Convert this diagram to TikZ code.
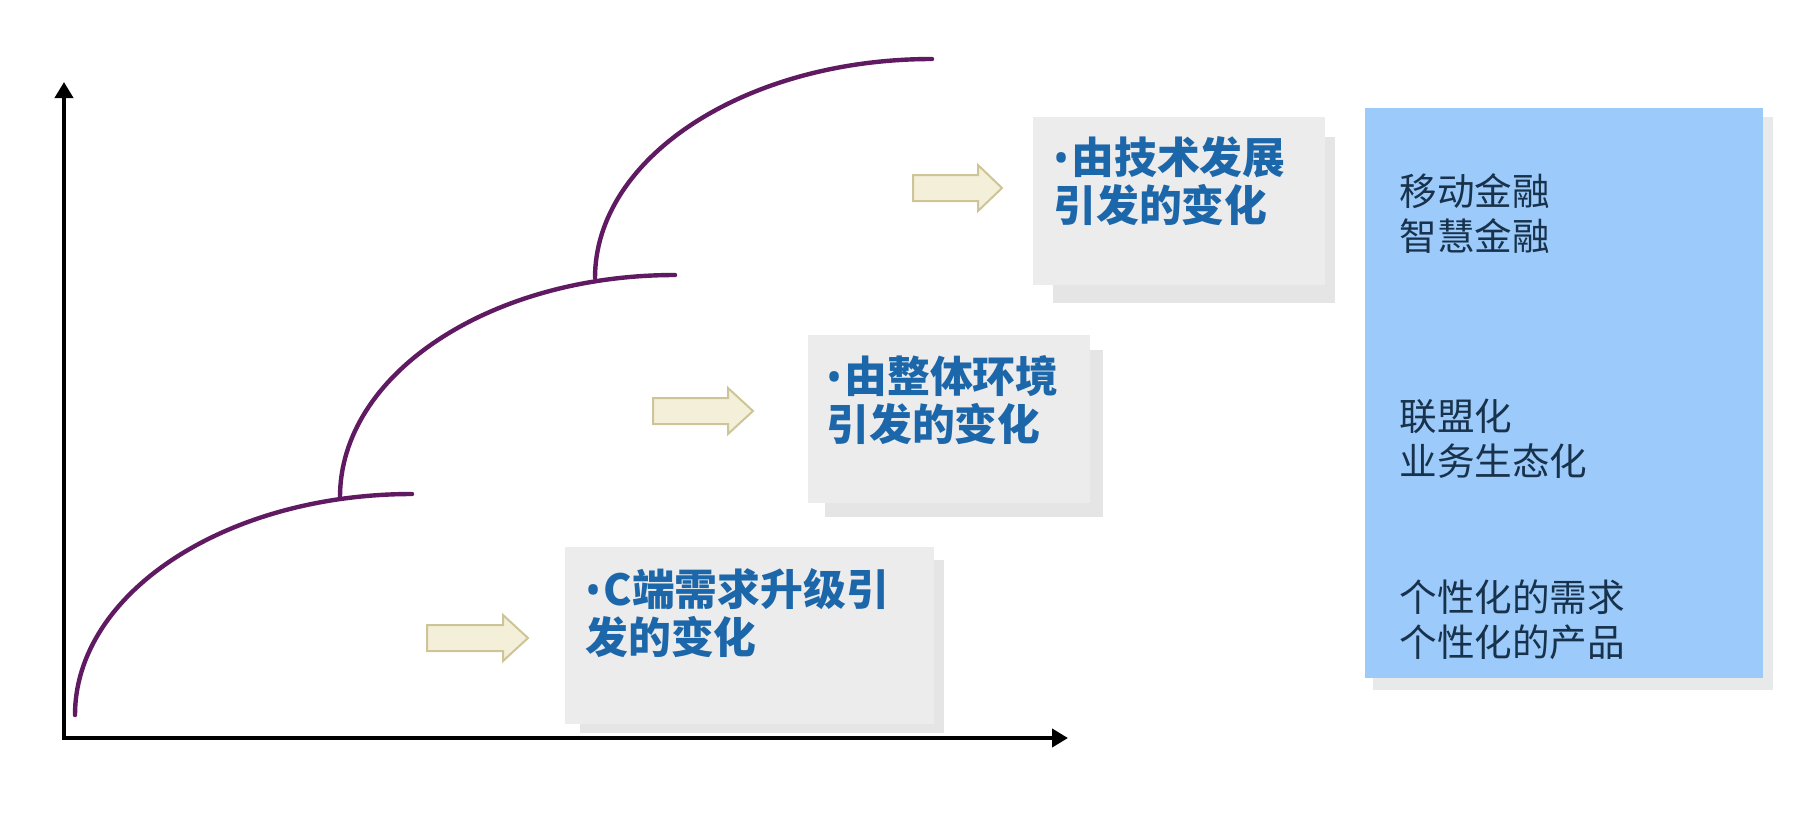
\documentclass[tikz,border=0pt]{standalone}
\usepackage{fontspec}
\newfontfamily\cjk{Noto Sans CJK SC}
\newfontfamily\latinsans{Noto Sans}
\usetikzlibrary{arrows.meta}

\definecolor{curvepurple}{HTML}{5F1A62}
\definecolor{cardgray}{HTML}{ECECEC}
\definecolor{cardshade}{HTML}{E5E5E5}
\definecolor{cardtext}{HTML}{1C66AA}
\definecolor{panelblue}{HTML}{9CCBFB}
\definecolor{panelshade}{HTML}{E8EAEA}
\definecolor{paneltext}{HTML}{18324C}
\definecolor{arrowfill}{HTML}{F3EFD9}
\definecolor{arrowedge}{HTML}{CDC597}

% hollow block arrow: start x, head base x, tip x, centre y (pixel units)
\newcommand{\shiftarrow}[4]{%
  \draw[blockarrow] (#1,#4-13) -- (#2,#4-13) -- (#2,#4-23) -- (#3,#4)
    -- (#2,#4+23) -- (#2,#4+13) -- (#1,#4+13) -- cycle;}
% narrow bullet ahead of a card title
\newcommand{\cardbullet}{{\latinsans\bfseries •}\hspace{1pt}}

\tikzset{
  axisline/.style={line width=2pt, black, {Triangle[length=8pt,width=9pt]}-{Triangle[length=8pt,width=9pt]}},
  growth/.style={line width=2.2pt, curvepurple, line cap=round},
  blockarrow/.style={fill=arrowfill, draw=arrowedge, line width=1pt, line join=miter},
  cardlabel/.style={anchor=west, align=left, inner sep=0pt, text=cardtext,
    font=\cjk\bfseries\fontsize{21.4pt}{24pt}\selectfont},
  panellabel/.style={anchor=west, align=left, inner sep=0pt, text=paneltext,
    font=\cjk\fontsize{18.8pt}{22.5pt}\selectfont},
}

\begin{document}
\begin{tikzpicture}[x=0.5pt,y=-0.5pt]
\useasboundingbox (0,0) rectangle (1818,820);

% axes
\coordinate (ytop) at (64,82);
\coordinate (origin) at (64,738);
\coordinate (xend) at (1068,738);
\draw[axisline] (ytop) -- (origin) -- (xend);

% three stacked growth curves (quarter ellipses)
\coordinate (c1s) at (75,715);  \coordinate (c1e) at (412,494);
\coordinate (c2s) at (340,497); \coordinate (c2e) at (675,275);
\coordinate (c3s) at (595,278); \coordinate (c3e) at (932,59);
\draw[growth] (c1s) .. controls (75,593) and (226,494) .. (c1e);
\draw[growth] (c2s) .. controls (340,374) and (490,275) .. (c2e);
\draw[growth] (c3s) .. controls (595,157) and (746,59) .. (c3e);

% grey cards with offset backing sheet
\fill[cardshade] (580,560) rectangle (944,733);
\fill[cardgray]  (565,547) rectangle (934,724);
\fill[cardshade] (825,350) rectangle (1103,517);
\fill[cardgray]  (808,335) rectangle (1090,503);
\fill[cardshade] (1053,137) rectangle (1335,303);
\fill[cardgray]  (1033,117) rectangle (1325,285);

% right-hand panel
\fill[panelshade] (1373,117) rectangle (1773,690);
\fill[panelblue] (1365,108) rectangle (1763,678);

% block arrows
\shiftarrow{427}{503}{528}{638}
\shiftarrow{653}{728}{753}{411}
\shiftarrow{913}{978}{1002}{188}

% card labels
\node[cardlabel] (t1) at (585,613) {\cardbullet C端需求升级引\\发的变化};
\node[cardlabel] (t2) at (826,400) {\cardbullet 由整体环境\\引发的变化};
\node[cardlabel] (t3) at (1053,181) {\cardbullet 由技术发展\\引发的变化};

% panel labels
\node[panellabel] (p1) at (1399,214) {移动金融\\智慧金融};
\node[panellabel] (p2) at (1399,439) {联盟化\\业务生态化};
\node[panellabel] (p3) at (1399,620) {个性化的需求\\个性化的产品};
\end{tikzpicture}
\end{document}
